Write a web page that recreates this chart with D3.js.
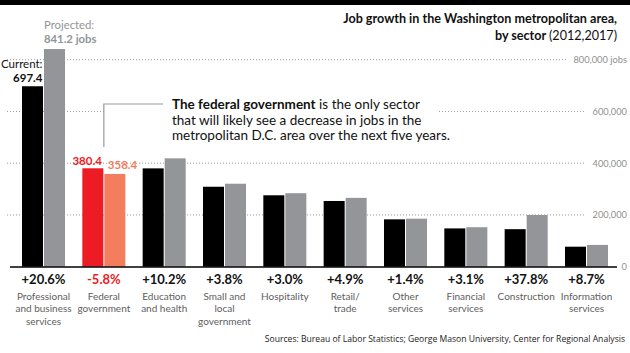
<!DOCTYPE html>
<html>
<head>
<meta charset="utf-8">
<script src="https://cdn.jsdelivr.net/npm/d3@7"></script>
<style>
  body { margin: 0; background: #fff; }
  svg { display: block; font-family: Lato, sans-serif; }
</style>
</head>
<body>
<div id="chart"></div>
<script>
// thousands of jobs, 2012 (current) and 2017 (projected)
const categories = [
  ["Professional", "and business", "services"],
  ["Federal", "government"],
  ["Education", "and health"],
  ["Small and", "local", "government"],
  ["Hospitality"],
  ["Retail/", "trade"],
  ["Other", "services"],
  ["Financial", "services"],
  ["Construction"],
  ["Information", "services"]
];
const current = [697.4, 380.4, 380, 309, 276, 254, 183, 148, 145, 77.3];
const projected = [841.2, 358.4, 418.8, 320.7, 284, 266, 185.6, 152.6, 199.8, 84.2];
const changes = ["+20.6%", "-5.8%", "+10.2%", "+3.8%", "+3.0%", "+4.9%", "+1.4%", "+3.1%", "+37.8%", "+8.7%"];
const yTicks = [0, 200000, 400000, 600000, 800000];

const width = 630, height = 353;
const black = "#000", gray = "#939598", red = "#ed1c24", salmon = "#f47d5d";

const svg = d3.select("#chart").append("svg")
  .attr("width", width)
  .attr("height", height);

const x = d3.scaleBand()
  .domain(d3.range(categories.length))
  .range([22, 608])
  .paddingInner(0.287);
const y = d3.scaleLinear().domain([0, 800000]).range([266.7, 59.7]);

// top rule
svg.append("rect").attr("x", 0).attr("y", 0).attr("width", width).attr("height", 5).attr("fill", "#000");

// title
svg.append("text")
  .attr("x", 617).attr("y", 23)
  .attr("text-anchor", "end")
  .attr("font-weight", "bold").attr("font-size", 12.6)
  .attr("fill", "#111")
  .text("Job growth in the Washington metropolitan area,");
const t2 = svg.append("text")
  .attr("x", 617).attr("y", 40)
  .attr("text-anchor", "end")
  .attr("font-size", 12.6).attr("fill", "#111");
t2.append("tspan").attr("font-weight", "bold").text("by sector ");
t2.append("tspan").text("(2012,2017)");

// y tick labels and dotted gridlines
const tickG = svg.append("g");
yTicks.forEach(v => {
  const label = tickG.append("text")
    .attr("x", 627).attr("y", y(v) + 3.5)
    .attr("text-anchor", "end")
    .attr("font-size", 9.3).attr("fill", "#8f8f8f")
    .text(d3.format(",")(v) + (v === 800000 ? " jobs" : ""));
  if (v > 0) {
    const w = label.node().getComputedTextLength();
    tickG.insert("line", "text")
      .attr("x1", 7).attr("x2", 627 - w - 7)
      .attr("y1", y(v)).attr("y2", y(v))
      .attr("stroke", "#9a9a9a").attr("stroke-width", 1)
      .attr("stroke-dasharray", "1,2");
  }
});

// white box behind annotation
svg.append("rect")
  .attr("x", 104).attr("y", 96).attr("width", 334).attr("height", 50)
  .attr("fill", "#fff");

// bars
const groups = svg.append("g").selectAll("g")
  .data(categories)
  .join("g")
  .attr("transform", (d, i) => `translate(${x(i)},0)`);

const half = x.bandwidth() / 2;
groups.append("rect")
  .attr("x", 0)
  .attr("y", (d, i) => y(current[i] * 1000))
  .attr("width", half - 0.5)
  .attr("height", (d, i) => y(0) - y(current[i] * 1000))
  .attr("fill", (d, i) => i === 1 ? red : black);
groups.append("rect")
  .attr("x", half + 0.5)
  .attr("y", (d, i) => y(projected[i] * 1000))
  .attr("width", half - 0.5)
  .attr("height", (d, i) => y(0) - y(projected[i] * 1000))
  .attr("fill", (d, i) => i === 1 ? salmon : gray);

// baseline
svg.append("line")
  .attr("x1", 10).attr("x2", 617)
  .attr("y1", 267).attr("y2", 267)
  .attr("stroke", "#000").attr("stroke-width", 1.5);

// change percentages
groups.append("text")
  .attr("x", half)
  .attr("y", 284)
  .attr("text-anchor", "middle")
  .attr("font-weight", "bold").attr("font-size", 13)
  .attr("fill", (d, i) => i === 1 ? red : "#111")
  .text((d, i) => changes[i]);

// category labels
groups.append("text")
  .attr("text-anchor", "middle")
  .attr("font-size", 10)
  .attr("fill", "#606060")
  .selectAll("tspan")
  .data(d => d)
  .join("tspan")
  .attr("x", half)
  .attr("y", (d, i) => 300 + i * 12.4)
  .text(d => d);

// value callouts, first sector
const x0 = x(0);
svg.append("text").attr("x", x0 + half + 0.5).attr("y", 29)
  .attr("font-size", 11.3).attr("fill", gray).text("Projected:");
svg.append("text").attr("x", x0 + half + 0.5).attr("y", 43)
  .attr("font-size", 11.3).attr("font-weight", "bold").attr("fill", gray)
  .text(projected[0] + " jobs");
const cur = svg.append("g");
cur.append("text").attr("x", x0 + half - 1).attr("y", 68)
  .attr("text-anchor", "end")
  .attr("font-size", 11.5).attr("fill", "#111").text("Current:");
cur.append("text").attr("x", x0 + half - 1).attr("y", 81.5)
  .attr("text-anchor", "end")
  .attr("font-size", 11.5).attr("font-weight", "bold").attr("fill", "#111")
  .text(current[0]);

// federal government values
const x1 = x(1);
svg.append("text").attr("x", x1 + half - 2).attr("y", 165)
  .attr("text-anchor", "end")
  .attr("font-size", 11.5).attr("font-weight", "bold").attr("fill", red)
  .text(current[1]);
svg.append("text").attr("x", x1 + half + 4).attr("y", 169)
  .attr("font-size", 11.5).attr("font-weight", "bold").attr("fill", salmon)
  .text(projected[1]);

// annotation bracket
svg.append("path")
  .attr("d", `M${x1 + half},147V104H163`)
  .attr("fill", "none").attr("stroke", "#999").attr("stroke-width", 1.2);

const ann = svg.append("text")
  .attr("font-size", 13.5).attr("fill", "#111");
const l1 = ann.append("tspan").attr("x", 172).attr("y", 109);
l1.append("tspan").attr("font-weight", "bold").text("The federal government");
l1.append("tspan").text(" is the only sector");
ann.append("tspan").attr("x", 172).attr("y", 124.5)
  .text("that will likely see a decrease in jobs in the");
ann.append("tspan").attr("x", 172).attr("y", 140)
  .text("metropolitan D.C. area over the next five years.");

// sources
svg.append("text")
  .attr("x", 625).attr("y", 342)
  .attr("text-anchor", "end")
  .attr("font-family", "'Open Sans', sans-serif")
  .attr("font-size", 8.6).attr("fill", "#222")
  .text("Sources: Bureau of Labor Statistics; George Mason University, Center for Regional Analysis");
</script>
</body>
</html>
